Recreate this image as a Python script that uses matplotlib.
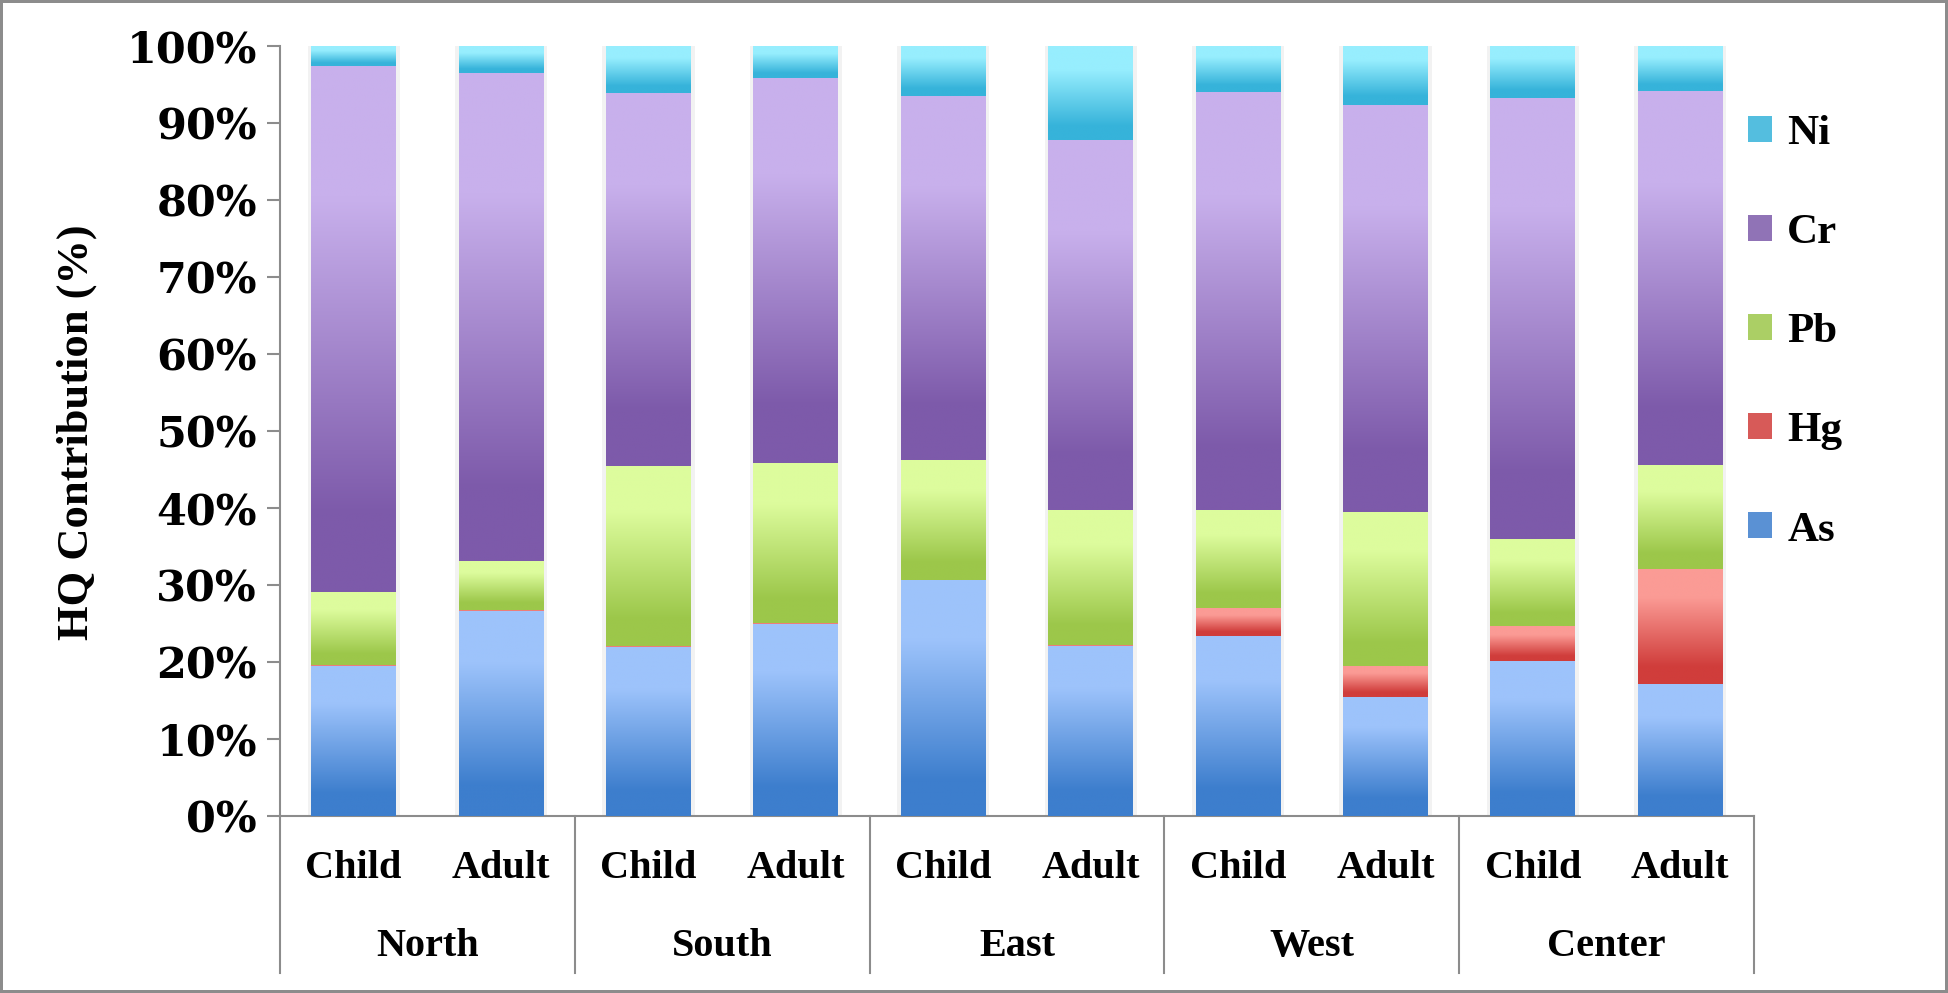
import numpy as np
import matplotlib
matplotlib.use('Agg')
import matplotlib.pyplot as plt
from matplotlib.colors import LinearSegmentedColormap
from matplotlib.transforms import blended_transform_factory

# HQ contribution per metal (%), bars: North/South/East/West/Center x Child/Adult
regions = ['North', 'South', 'East', 'West', 'Center']
groups = ['Child', 'Adult']
metals = ['As', 'Hg', 'Pb', 'Cr', 'Ni']

as_vals = [19.5, 26.6, 22.0, 25.0, 30.6, 22.1, 23.4, 15.4, 20.2, 17.1]
hg_vals = [0.1, 0.1, 0.1, 0.1, 0.1, 0.1, 3.6, 4.1, 4.5, 15.0]
pb_vals = [9.5, 6.4, 23.3, 20.7, 15.5, 17.5, 12.7, 20.0, 11.3, 13.5]
cr_vals = [68.3, 63.4, 48.5, 50.0, 47.3, 48.1, 54.3, 52.8, 57.2, 48.6]
ni_vals = [2.6, 3.5, 6.1, 4.2, 6.5, 12.2, 6.0, 7.7, 6.8, 5.8]

# light (top) / dark (bottom) gradient colours
colors = {
    'As': ('#9dc3fb', '#3d7ecd'),
    'Hg': ('#fb9b95', '#d03d3b'),
    'Pb': ('#ddfc9d', '#9cc74a'),
    'Cr': ('#c8b0ec', '#7d5aaa'),
    'Ni': ('#97eefe', '#36b3da'),
}

data = np.array([as_vals, hg_vals, pb_vals, cr_vals, ni_vals])
data = data / data.sum(axis=0)

serif = 'Liberation Serif'
tickfont = 'DejaVu Serif'
gray = '#8c8c8c'

fig = plt.figure(figsize=(19.48, 9.93), dpi=100)
fig.patch.set_edgecolor(gray)
fig.patch.set_linewidth(4)
ax = fig.add_axes([0.1437, 0.1782, 0.7567, 0.7754])

x = np.arange(len(regions) * len(groups))
width = 0.575

# faint shadow behind bars
ax.bar(x, 1, width=width + 0.05, color='black', alpha=0.05, zorder=1)

grad = np.linspace(0, 1, 256).reshape(-1, 1)
bottom = np.zeros(len(x))
handles = []
for metal, vals in zip(metals, data):
    light, dark = colors[metal]
    bars = ax.bar(x, vals, width=width, bottom=bottom, color=dark,
                  label=metal, zorder=2, linewidth=0)
    handles.append(bars)
    cmap = LinearSegmentedColormap.from_list(
        metal, [(0, dark), (0.15, dark), (0.75, light), (1, light)])
    for p in bars:
        x0, y0 = p.get_xy()
        w, h = p.get_width(), p.get_height()
        if h <= 0:
            continue
        im = ax.imshow(grad, cmap=cmap, origin='lower', aspect='auto',
                       extent=(x0, x0 + w, y0, y0 + h), zorder=3,
                       interpolation='bilinear')
        im.set_clip_path(p)
    bottom += vals

ax.set_xlim(-0.5, len(x) - 0.5)
ax.set_ylim(0, 1)

# y axis
ax.set_yticks(np.linspace(0, 1, 11))
ax.set_yticklabels([f'{int(v)}%' for v in np.arange(0, 101, 10)],
                   fontfamily=tickfont, fontweight='bold', fontsize=31)
ax.tick_params(axis='y', length=9.5, width=1.5, color=gray, pad=7)
ax.tick_params(axis='x', length=0)
ax.set_xticks([])

for s in ['top', 'right']:
    ax.spines[s].set_visible(False)
for s in ['left', 'bottom']:
    ax.spines[s].set_color(gray)
    ax.spines[s].set_linewidth(1.5)

# category axis: child/adult and region labels with separators
trans = blended_transform_factory(ax.transData, ax.transAxes)
for i, xi in enumerate(x):
    ax.text(xi, -0.0675, groups[i % 2], transform=trans, ha='center',
            va='center', fontfamily=serif, fontweight='bold', fontsize=29)
for j, reg in enumerate(regions):
    ax.text(2 * j + 0.5, -0.170, reg, transform=trans, ha='center',
            va='center', fontfamily=serif, fontweight='bold', fontsize=29)
for b in np.arange(-0.5, len(x), 2):
    ax.plot([b, b], [0, -0.204], transform=trans, color=gray, lw=1.5,
            clip_on=False)

fig.text(77 / 1948, 1 - 432 / 993, 'HQ Contribution (%)', rotation=90,
         ha='center', va='center', fontfamily=serif, fontweight='bold',
         fontsize=32)

leg = fig.legend(handles[::-1], metals[::-1], loc='upper left',
                 bbox_to_anchor=(1748 / 1948, 1 - 115 / 993), frameon=False,
                 prop={'family': serif, 'weight': 'bold', 'size': 31},
                 handlelength=0.56, handleheight=0.56, handletextpad=0.35,
                 labelspacing=1.42, borderpad=0, borderaxespad=0)
for hnd, metal in zip(leg.legend_handles, metals[::-1]):
    hnd.set_color(colors[metal][1])
    hnd.set_alpha(0.85)

fig.savefig('out.png', dpi=100)
